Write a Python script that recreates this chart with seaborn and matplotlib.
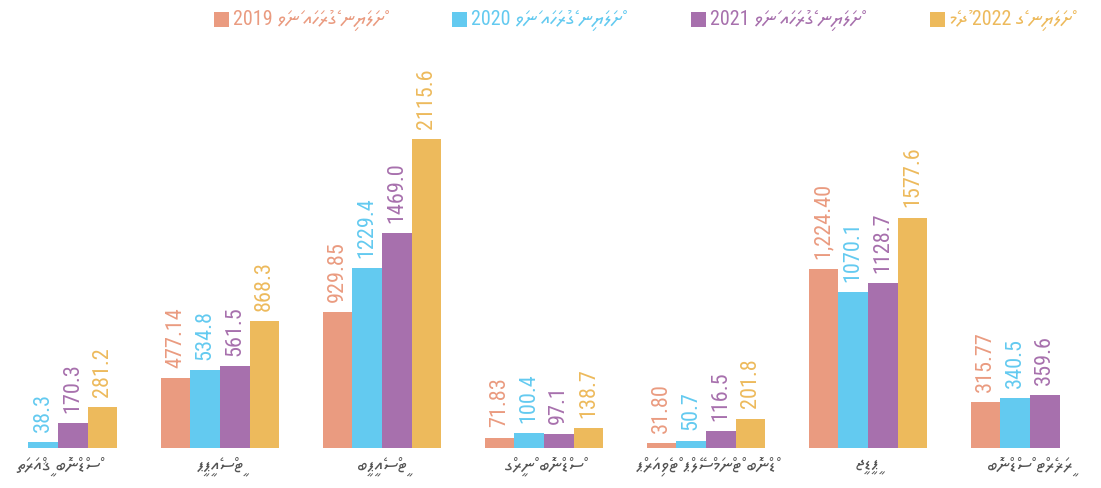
import numpy as np
import pandas as pd
import matplotlib
matplotlib.use("Agg")
import matplotlib.pyplot as plt
from matplotlib.patches import Rectangle
import seaborn as sns

# categories (thaana, logical order; the text engine handles right-to-left)
categories = [
    "ތަރައްޤީ ބޮންޑްސް",
    "ޕީޕީއެސްޓީ",
    "ބީޕީއެސްޓީ",
    "ގްރީން ބޮންޑްސް",
    "ޕްރައިވެޓް ޕްލޭސްމަންޓް ބޮންޑް",
    "ޖީޑީޕީ",
    "ބޮންޑްސް ޓްރެޜަރީ",
]
years = ["2019", "2020", "2021", "2022"]
legend_labels = [
    "2019 ވަނަ އަހަރުގެ ނިޔަލަށް",
    "2020 ވަނަ އަހަރުގެ ނިޔަލަށް",
    "2021 ވަނަ އަހަރުގެ ނިޔަލަށް",
    "މެދު 2022 ގެ ނިޔަލަށް",
]
values_2019 = [np.nan, 477.14, 929.85, 71.83, 31.80, 1224.40, 315.77]
values_2020 = [38.3, 534.8, 1229.4, 100.4, 50.7, 1070.1, 340.5]
values_2021 = [170.3, 561.5, 1469.0, 97.1, 116.5, 1128.7, 359.6]
values_2022 = [281.2, 868.3, 2115.6, 138.7, 201.8, 1577.6, np.nan]
labels_2019 = ["", "477.14", "929.85", "71.83", "31.80", "1,224.40", "315.77"]
labels_2020 = ["38.3", "534.8", "1229.4", "100.4", "50.7", "1070.1", "340.5"]
labels_2021 = ["170.3", "561.5", "1469.0", "97.1", "116.5", "1128.7", "359.6"]
labels_2022 = ["281.2", "868.3", "2115.6", "138.7", "201.8", "1577.6", ""]
colors = ["#EA9B80", "#63CAF0", "#A770AD", "#EDBA5C"]

THAANA = "Noto Sans Thaana"
NUM_FONT = ["Roboto Condensed", "Roboto", THAANA]

all_values = [values_2019, values_2020, values_2021, values_2022]
all_labels = [labels_2019, labels_2020, labels_2021, labels_2022]
rows = []
for year, vals in zip(years, all_values):
    for cat, v in zip(categories, vals):
        rows.append({"cat": cat, "year": year, "value": v})
df = pd.DataFrame(rows)

sns.set_style("white")
fig = plt.figure(figsize=(11.01, 4.89), dpi=100)
ax = fig.add_axes([0, 40 / 489, 1, 409 / 489])

sns.barplot(data=df, x="cat", y="value", hue="year", order=categories,
            hue_order=years, palette=colors, saturation=1, width=0.73,
            linewidth=0, ax=ax, legend=False)

# labels on top of bars, rotated
for year_i, cont in enumerate(ax.containers):
    labs = []
    for bar in cont:
        idx = int(round(bar.get_x() + bar.get_width() / 2))
        labs.append(all_labels[year_i][idx] if bar.get_height() > 0 else "")
    ax.bar_label(cont, labels=labs, rotation=90, padding=8,
                 color=colors[year_i], fontsize=16, family=NUM_FONT)

ax.set_xlim(-58 / 162, (1101 - 58) / 162)
ax.set_ylim(0, 2800)
ax.set_xticks(range(len(categories)))
ax.set_xticklabels(categories, color="#555555", fontsize=13.5, family=THAANA)
ax.tick_params(axis="x", length=0, pad=6)
ax.set_yticks([])
ax.set_xlabel("")
ax.set_ylabel("")
sns.despine(ax=ax, left=True, bottom=True)

# legend: square + coloured text, placed like the original
legend_x = [214, 452, 691, 930]
for x0, text, c in zip(legend_x, legend_labels, colors):
    fig.add_artist(Rectangle((x0 / 1101, 1 - 28 / 489), 15 / 1101, 15 / 489,
                             transform=fig.transFigure, facecolor=c,
                             edgecolor="none"))
    fig.text((x0 + 19) / 1101, 1 - 20 / 489, text, color=c,
             fontsize=14.5, family=NUM_FONT, va="center", ha="left")

fig.savefig("out.png", dpi=100)
